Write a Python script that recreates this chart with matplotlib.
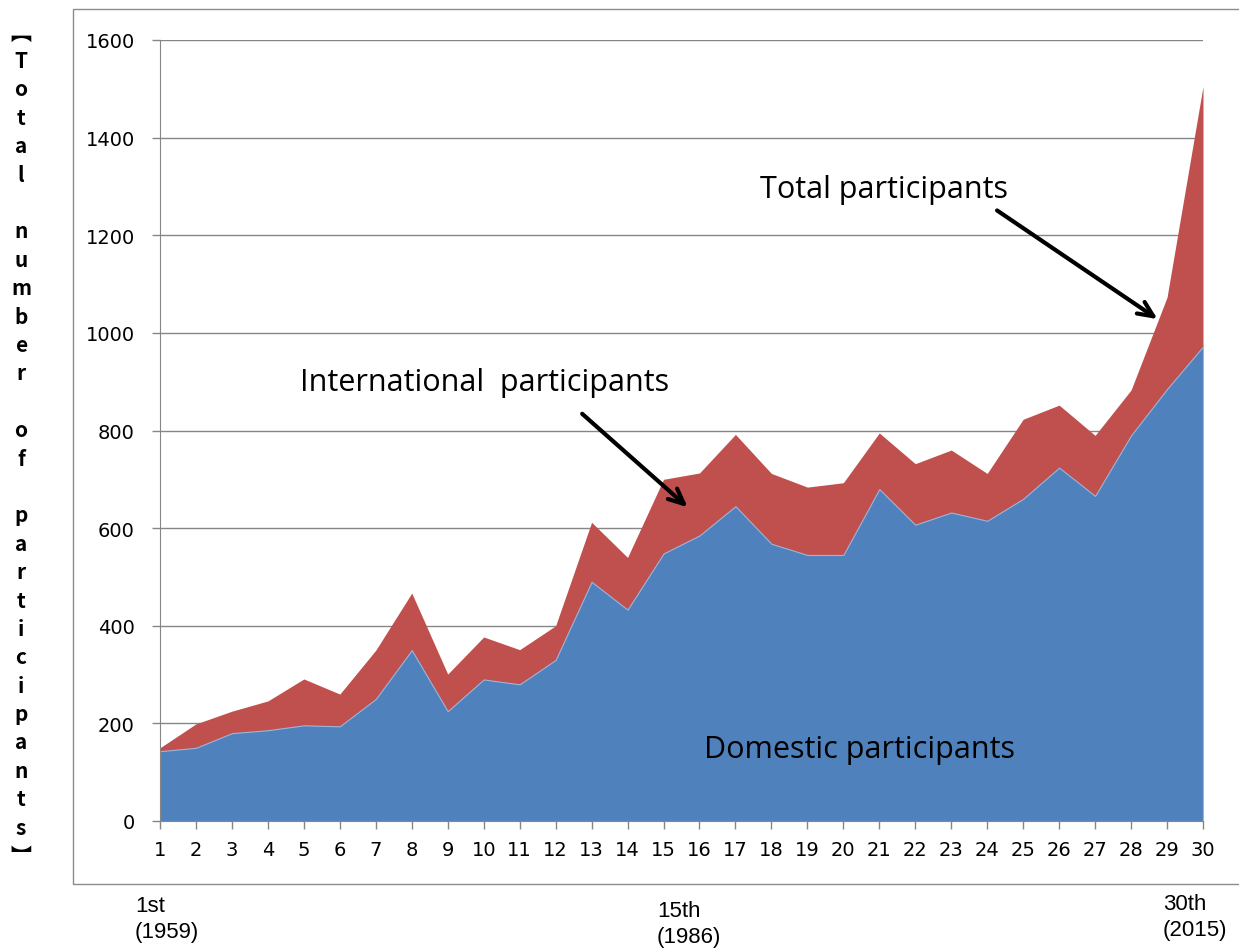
import matplotlib
matplotlib.use("Agg")
import matplotlib.pyplot as plt
from matplotlib.patches import Rectangle

# edition number (1st = 1959 ... 30th = 2015)
editions = list(range(1, 31))
domestic = [143, 150, 180, 186, 196, 194, 250, 350, 225, 290,
            280, 330, 490, 433, 548, 585, 645, 568, 545, 545,
            680, 607, 632, 615, 660, 724, 666, 790, 885, 972]
total = [150, 199, 225, 246, 291, 260, 350, 467, 301, 377,
         351, 400, 612, 540, 700, 713, 792, 712, 684, 693,
         795, 732, 760, 712, 823, 852, 790, 883, 1073, 1505]
y_ticks = [0, 200, 400, 600, 800, 1000, 1200, 1400, 1600]
ylabel_text = "Total number of participants"
bottom_labels = ["1st\n(1959)", "15th\n(1986)", "30th\n(2015)"]

BLUE = "#4F81BD"
RED = "#C0504D"
GRID = "#868686"

fig = plt.figure(figsize=(12.39, 9.53), dpi=100)
ax = fig.add_axes([160 / 1239, 1 - 822 / 953, 1043 / 1239, 781 / 953])

ax.fill_between(editions, 0, total, color=RED, linewidth=0)
ax.fill_between(editions, 0, domestic, color=BLUE, edgecolor="#9DB6DA", linewidth=0.8)

ax.set_xlim(1, 30)
ax.set_ylim(0, 1600)
ax.set_xticks(editions)
ax.set_yticks(y_ticks)
ax.tick_params(axis="both", colors=GRID, labelcolor="black", labelsize=14, length=6, width=1)
ax.tick_params(axis="x", pad=8)
ax.tick_params(axis="y", pad=12)
ax.grid(axis="y", color=GRID, linewidth=1)
ax.set_axisbelow(True)
for side in ["top", "right"]:
    ax.spines[side].set_visible(False)
for side in ["left", "bottom"]:
    ax.spines[side].set_color(GRID)

# annotations
note_font = "Open Sans"
arrow = dict(arrowstyle="->,head_length=1.1,head_width=0.5", color="black", lw=3)
ax.text(4.89, 900, "International  participants", fontsize=22, family=note_font, va="center")
ax.annotate("", xy=(15.73, 639), xytext=(12.68, 838), arrowprops=arrow)
ax.text(17.68, 1295, "Total participants", fontsize=22, family=note_font, va="center")
ax.annotate("", xy=(28.8, 1025), xytext=(24.21, 1254), arrowprops=arrow)
ax.text(16.12, 147, "Domestic participants", fontsize=22, family=note_font, va="center")

# outer frame
fig.add_artist(Rectangle((73 / 1239, 1 - 885 / 953), 1.2, 875 / 953, transform=fig.transFigure,
                         fill=False, edgecolor="#8C8C8C", linewidth=1))

# vertical y label, one character per line
chars = ["\ufe3b"] + list(ylabel_text) + ["\ufe3c"]
top_px, step_px = 33, 28.4
for i, ch in enumerate(chars):
    if ch == " ":
        continue
    fig.text(21 / 1239, 1 - (top_px + i * step_px) / 953, ch, ha="center", va="center",
             fontsize=15, fontweight="bold", family=["Noto Sans CJK JP", "DejaVu Sans"])

# edition / year labels below the frame
for lbl, x_px, y_px in zip(bottom_labels, [135, 657, 1163], [896, 901, 894]):
    fig.text(x_px / 1239, 1 - y_px / 953, lbl, ha="left", va="top", fontsize=16,
             family="Liberation Sans", linespacing=1.3)

fig.savefig("out.png", dpi=100)
